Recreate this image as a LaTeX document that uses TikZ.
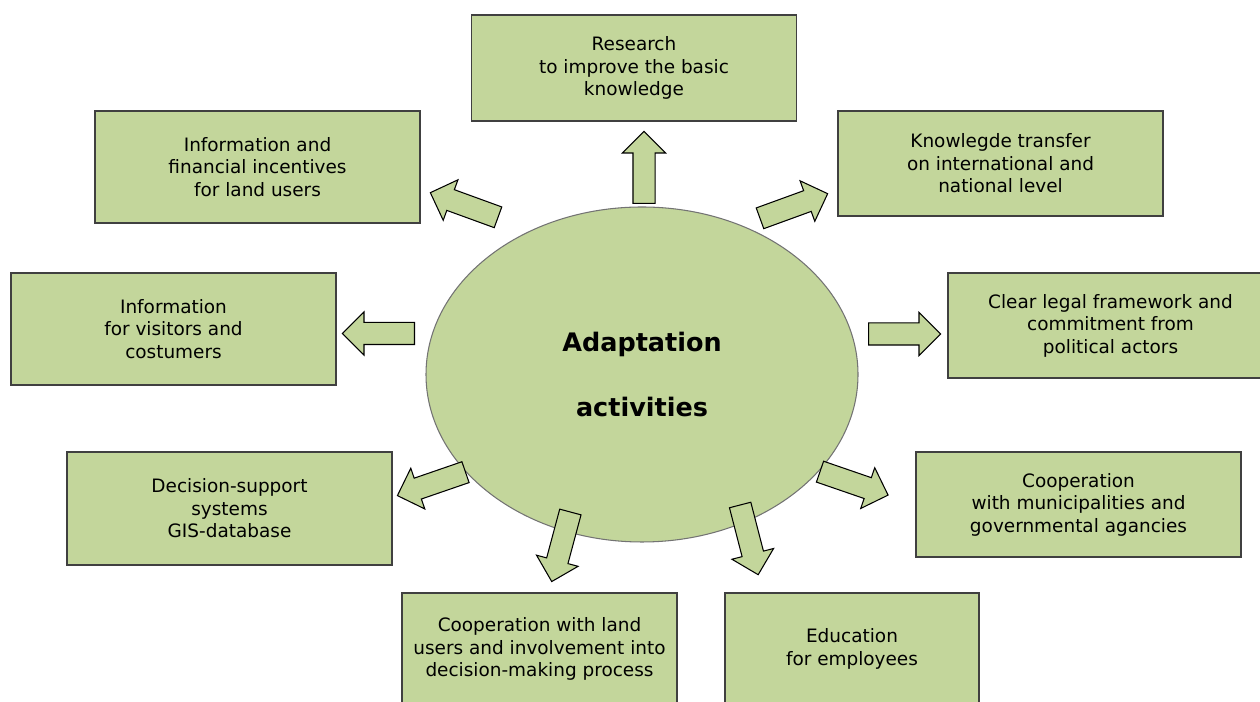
\documentclass[tikz,border=0pt]{standalone}
\usepackage{fontspec}
\setmainfont{DejaVu Sans}
\usetikzlibrary{shapes.geometric,shapes.arrows,positioning}
\definecolor{olivefill}{HTML}{C3D69B}
\begin{document}
\begin{tikzpicture}[
    box/.style={rectangle, draw=black!75, line width=0.75pt, fill=olivefill,
                text centered, minimum width=6.5cm, minimum height=2.1cm,
                font=\fontsize{10.5}{12.8}\selectfont},
    core/.style={ellipse, draw=black!55, line width=0.6pt, fill=olivefill,
                 minimum width=8.64cm, minimum height=6.7cm, text centered,
                 font=\fontsize{14.5}{37}\selectfont\bfseries},
    blockarrow/.style={single arrow, draw=black, line width=0.6pt, fill=olivefill,
                 minimum height=1.44cm, inner xsep=0pt, inner ysep=0.21cm,
                 single arrow head extend=0.21cm, single arrow tip angle=90,
                 anchor=tail}
]
\useasboundingbox (0,0) rectangle (25.2,14.04);

% Centre
\node[core, align=center] (adapt) at (12.84,6.55) {Adaptation\\activities};

% Activity boxes
\node[box, align=center, minimum height=2.12cm] (research) at (12.68,12.68) {Research\\to improve the basic\\knowledge};
\node[box, align=center, minimum height=2.24cm] (incentives) at (5.15,10.70) {Information and\\financial incentives\\for land users};
\node[box, align=center] (transfer) at (20.01,10.77) {Knowlegde transfer\\on international and\\national level};
\node[box, align=center, minimum height=2.24cm] (visitors) at (3.47,7.46) {Information\\for visitors and\\costumers};
\node[box, align=center] (legal) at (22.21,7.53) {Clear legal framework and\\commitment from\\political actors};
\node[box, align=center, minimum height=2.26cm] (decision) at (4.59,3.87) {Decision-support\\systems\\GIS-database};
\node[box, align=center] (municip) at (21.57,3.95) {Cooperation\\with municipalities and\\governmental agancies};
\node[box, align=center, minimum width=5.5cm, minimum height=2.24cm] (landusers) at (10.79,1.06) {Cooperation with land\\users and involvement into\\decision-making process};
\node[box, align=center, minimum width=5.08cm, minimum height=2.24cm] (education) at (17.04,1.06) {Education\\for employees};

% Block arrows
\node[blockarrow, rotate=90] (arUp) at (12.88,9.96) {};
\node[blockarrow, rotate=160] (arIncent) at (9.97,9.69) {};
\node[blockarrow, rotate=20] (arTransfer) at (15.19,9.67) {};
\node[blockarrow, rotate=180] (arVisit) at (8.30,7.37) {};
\node[blockarrow, rotate=0] (arLegal) at (17.36,7.36) {};
\node[blockarrow, rotate=199] (arDecision) at (9.32,4.60) {};
\node[blockarrow, rotate=-19] (arMunicip) at (16.39,4.61) {};
\node[blockarrow, rotate=255] (arLand) at (11.41,3.81) {};
\node[blockarrow, rotate=284.5] (arEdu) at (14.80,3.95) {};

\end{tikzpicture}
\end{document}
